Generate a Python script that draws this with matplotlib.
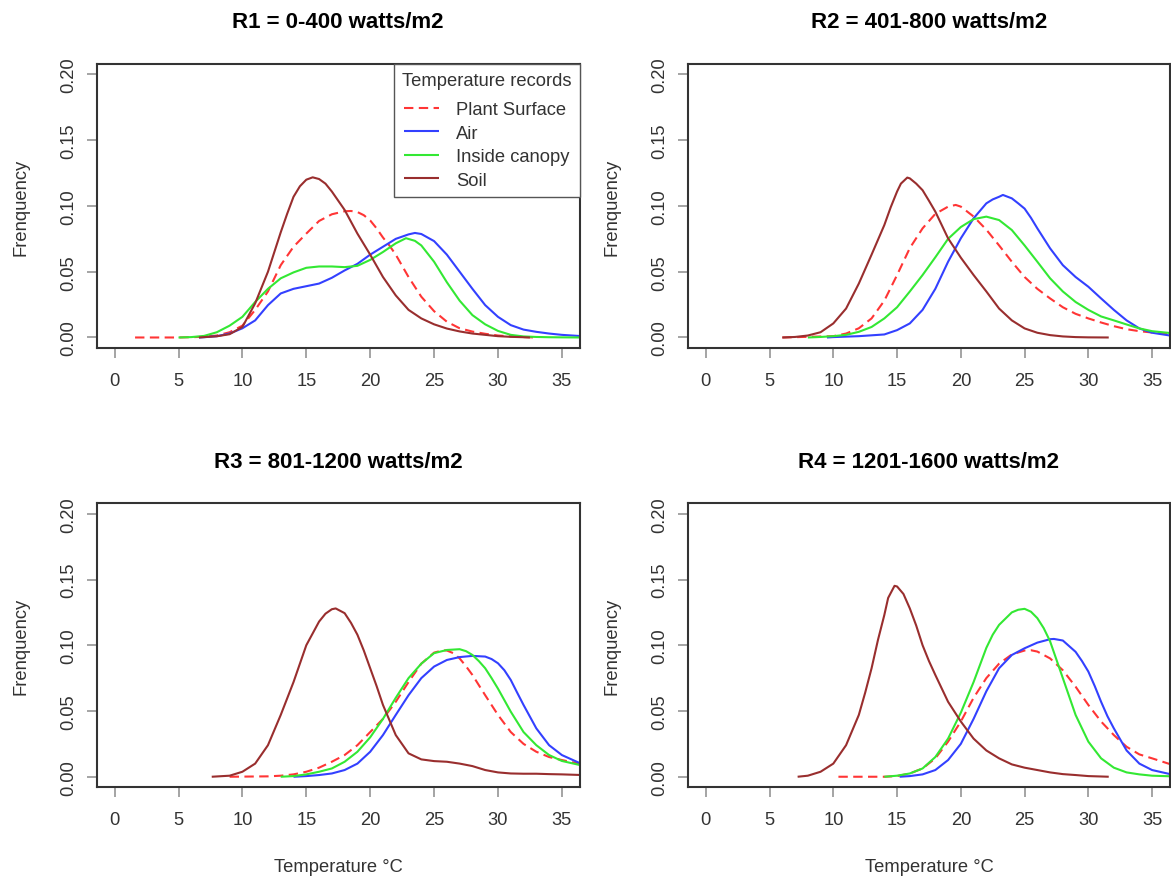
import matplotlib
matplotlib.use("Agg")
import matplotlib.pyplot as plt

plt.rcParams["font.family"] = ["Liberation Sans", "DejaVu Sans"]

# ---- data (temperature in deg C, density) ----
titles = [
    "R1 = 0-400 watts/m2",
    "R2 = 401-800 watts/m2",
    "R3 = 801-1200 watts/m2",
    "R4 = 1201-1600 watts/m2",
]
series_names = ["Plant Surface", "Air", "Inside canopy", "Soil"]

# R1
r1_plant_x = [1.6, 3, 5, 7, 8, 9, 10, 11, 12, 13, 14, 15, 16, 17, 18, 18.5, 19, 19.5, 20, 20.5, 21, 21.5, 22, 23, 24, 25, 26, 27, 28, 29, 30, 31, 32, 33]
r1_plant_y = [0, 0, 0, 0.0005, 0.0015, 0.004, 0.009, 0.021, 0.035, 0.055, 0.069, 0.079, 0.0886, 0.0937, 0.096, 0.0962, 0.0954, 0.093, 0.089, 0.083, 0.076, 0.070, 0.063, 0.046, 0.031, 0.020, 0.012, 0.007, 0.0045, 0.0028, 0.0015, 0.0008, 0.0003, 0]
r1_air_x = [6.6, 7, 8, 9, 10, 11, 12, 13, 14, 15, 16, 17, 18, 19, 20, 21, 22, 23, 23.5, 24, 25, 26, 27, 28, 29, 30, 31, 32, 33, 34, 35, 36.6]
r1_air_y = [0, 0.0002, 0.001, 0.003, 0.007, 0.013, 0.0246, 0.0335, 0.037, 0.039, 0.041, 0.0454, 0.051, 0.056, 0.063, 0.069, 0.075, 0.0784, 0.0795, 0.0787, 0.0733, 0.063, 0.050, 0.037, 0.0246, 0.0157, 0.0094, 0.006, 0.0043, 0.003, 0.002, 0.001]
r1_canopy_x = [5, 6, 7, 8, 9, 10, 11, 12, 13, 14, 15, 16, 17, 18, 19, 20, 21, 22, 22.8, 23.5, 24, 25, 26, 27, 28, 29, 30, 31, 32, 33, 34, 35, 36.6]
r1_canopy_y = [0, 0.0003, 0.0012, 0.004, 0.009, 0.0157, 0.027, 0.037, 0.045, 0.0495, 0.053, 0.054, 0.054, 0.0535, 0.0545, 0.059, 0.065, 0.0716, 0.0755, 0.0735, 0.070, 0.0576, 0.042, 0.028, 0.017, 0.010, 0.005, 0.002, 0.0008, 0.0004, 0.0002, 0.0001, 0]
r1_soil_x = [6.6, 7, 8, 9, 10, 11, 11.5, 12, 12.5, 13, 13.5, 14, 14.5, 15, 15.5, 16, 16.5, 17, 17.5, 18, 19, 20, 21, 22, 23, 24, 25, 26, 27, 28, 29, 30, 31, 32, 32.5]
r1_soil_y = [0, 0.0003, 0.0009, 0.0025, 0.008, 0.026, 0.038, 0.050, 0.065, 0.080, 0.094, 0.107, 0.115, 0.120, 0.1218, 0.1205, 0.117, 0.111, 0.104, 0.097, 0.079, 0.063, 0.046, 0.032, 0.021, 0.0145, 0.010, 0.0068, 0.0046, 0.003, 0.002, 0.001, 0.0005, 0.0002, 0]

# R2
r2_plant_x = [6, 8, 10, 11, 12, 13, 14, 15, 16, 17, 18, 19, 19.6, 20, 21, 22, 23, 24, 25, 26, 27, 28, 29, 30, 31, 32, 33, 34, 35, 36.6]
r2_plant_y = [0, 0.0005, 0.001, 0.003, 0.007, 0.0145, 0.028, 0.0475, 0.068, 0.083, 0.094, 0.0995, 0.1008, 0.0995, 0.092, 0.082, 0.070, 0.0576, 0.046, 0.037, 0.0297, 0.023, 0.018, 0.0145, 0.0114, 0.0086, 0.0063, 0.0048, 0.0038, 0.0027]
r2_air_x = [9.5, 10, 12, 14, 15, 16, 17, 18, 19, 20, 21, 22, 22.5, 23, 23.3, 24, 24.5, 25, 25.5, 26, 27, 28, 29, 30, 31, 32, 33, 34, 35, 36.6]
r2_air_y = [0, 0.0003, 0.001, 0.0023, 0.0056, 0.0107, 0.021, 0.037, 0.0576, 0.0754, 0.0906, 0.102, 0.105, 0.107, 0.1084, 0.1058, 0.102, 0.098, 0.091, 0.083, 0.0678, 0.055, 0.046, 0.0386, 0.0297, 0.021, 0.013, 0.0069, 0.0036, 0.0012]
r2_canopy_x = [8, 9, 10, 11, 12, 13, 14, 15, 16, 17, 18, 19, 20, 21, 22, 23, 24, 25, 26, 27, 28, 29, 30, 31, 32, 33, 34, 35, 36.6]
r2_canopy_y = [0, 0.0004, 0.001, 0.002, 0.0043, 0.008, 0.0145, 0.023, 0.035, 0.0475, 0.061, 0.075, 0.084, 0.090, 0.0919, 0.0893, 0.0817, 0.070, 0.0576, 0.045, 0.035, 0.027, 0.021, 0.016, 0.013, 0.0099, 0.0069, 0.0048, 0.0032]
r2_soil_x = [6, 7, 8, 9, 10, 11, 12, 13, 14, 14.5, 15, 15.3, 15.8, 16, 16.5, 17, 17.5, 18, 19, 20, 21, 22, 23, 24, 25, 26, 27, 28, 29, 30, 31.6]
r2_soil_y = [0, 0.0004, 0.0015, 0.004, 0.0107, 0.022, 0.041, 0.063, 0.0855, 0.099, 0.111, 0.117, 0.1216, 0.121, 0.117, 0.112, 0.104, 0.0957, 0.0754, 0.0607, 0.0475, 0.035, 0.022, 0.013, 0.0069, 0.0036, 0.0018, 0.0008, 0.0003, 0.0001, 0]

# R3
r3_plant_x = [9, 12, 13, 14, 15, 16, 17, 18, 19, 20, 21, 22, 23, 24, 25, 25.7, 26, 26.5, 27, 27.5, 28, 29, 30, 31, 32, 33, 34, 35, 36.6]
r3_plant_y = [0, 0.0003, 0.0008, 0.0018, 0.0038, 0.0069, 0.0114, 0.0165, 0.024, 0.034, 0.044, 0.057, 0.072, 0.086, 0.0944, 0.0962, 0.096, 0.094, 0.090, 0.084, 0.0774, 0.062, 0.047, 0.034, 0.025, 0.019, 0.015, 0.0127, 0.0095]
r3_air_x = [14, 15, 16, 17, 18, 19, 20, 21, 22, 23, 24, 25, 26, 27, 28, 29, 29.5, 30, 30.5, 31, 31.5, 32, 33, 34, 35, 36.6]
r3_air_y = [0, 0.0005, 0.0013, 0.0025, 0.0051, 0.010, 0.019, 0.0317, 0.047, 0.062, 0.075, 0.0838, 0.0888, 0.091, 0.0919, 0.0914, 0.0895, 0.0863, 0.081, 0.0736, 0.064, 0.0546, 0.0368, 0.024, 0.0165, 0.0095]
r3_canopy_x = [13, 14, 15, 16, 17, 18, 19, 20, 21, 22, 23, 24, 25, 26, 27, 27.5, 28, 28.5, 29, 29.5, 30, 31, 32, 33, 34, 35, 36.6]
r3_canopy_y = [0, 0.0005, 0.0018, 0.0038, 0.0063, 0.0114, 0.019, 0.030, 0.044, 0.060, 0.075, 0.086, 0.094, 0.0964, 0.097, 0.0955, 0.0926, 0.088, 0.0825, 0.075, 0.067, 0.0495, 0.034, 0.024, 0.0165, 0.012, 0.0085]
r3_soil_x = [7.6, 9, 10, 11, 12, 13, 14, 15, 16, 16.5, 17, 17.3, 18, 18.5, 19, 19.5, 20, 20.5, 21, 22, 23, 24, 25, 26, 27, 28, 29, 30, 31, 32, 33, 34, 35, 36.6]
r3_soil_y = [0, 0.0008, 0.0038, 0.010, 0.024, 0.047, 0.072, 0.100, 0.118, 0.124, 0.1274, 0.128, 0.1244, 0.117, 0.108, 0.096, 0.0825, 0.069, 0.0546, 0.0317, 0.0178, 0.0132, 0.0119, 0.0114, 0.010, 0.0081, 0.0051, 0.0033, 0.0025, 0.0023, 0.0023, 0.002, 0.0018, 0.0013]

# R4
r4_plant_x = [10.4, 14, 15, 16, 17, 18, 19, 20, 21, 22, 23, 24, 25, 25.5, 26, 27, 28, 29, 30, 31, 32, 33, 34, 35, 36.6]
r4_plant_y = [0, 0, 0.0005, 0.0025, 0.0063, 0.014, 0.0267, 0.042, 0.060, 0.075, 0.086, 0.093, 0.096, 0.0962, 0.0952, 0.090, 0.081, 0.0685, 0.0546, 0.042, 0.0317, 0.0228, 0.017, 0.014, 0.009]
r4_air_x = [15.2, 16, 17, 18, 19, 20, 21, 22, 23, 24, 25, 26, 27, 27.3, 28, 29, 29.5, 30, 30.5, 31, 31.5, 32, 33, 34, 35, 36.6]
r4_air_y = [0, 0.0005, 0.0018, 0.0051, 0.0127, 0.025, 0.044, 0.065, 0.0825, 0.0926, 0.0977, 0.102, 0.1046, 0.1048, 0.1036, 0.095, 0.088, 0.080, 0.069, 0.057, 0.046, 0.0368, 0.020, 0.010, 0.0051, 0.0016]
r4_canopy_x = [14, 15, 16, 17, 18, 19, 20, 21, 21.5, 22, 22.5, 23, 24, 24.5, 25, 25.5, 26, 26.5, 27, 27.5, 28, 28.5, 29, 30, 31, 32, 33, 34, 35, 36.6]
r4_canopy_y = [0, 0.0008, 0.0025, 0.0063, 0.015, 0.029, 0.0487, 0.072, 0.085, 0.098, 0.108, 0.1155, 0.125, 0.127, 0.1277, 0.1255, 0.1206, 0.113, 0.103, 0.089, 0.075, 0.061, 0.047, 0.0267, 0.014, 0.0069, 0.0033, 0.0018, 0.0008, 0.0003]
r4_soil_x = [7.2, 8, 9, 10, 11, 12, 12.5, 13, 13.5, 14, 14.3, 14.8, 15, 15.5, 16, 16.5, 17, 17.5, 18, 19, 20, 21, 22, 23, 24, 25, 26, 27, 28, 29, 30, 31, 31.6]
r4_soil_y = [0, 0.0008, 0.0038, 0.010, 0.024, 0.047, 0.064, 0.0825, 0.104, 0.123, 0.136, 0.1452, 0.1447, 0.139, 0.128, 0.115, 0.100, 0.088, 0.0774, 0.057, 0.042, 0.029, 0.020, 0.014, 0.0094, 0.0069, 0.0051, 0.0033, 0.002, 0.0013, 0.0005, 0.0002, 0]

panels = [
    [(r1_plant_x, r1_plant_y), (r1_air_x, r1_air_y), (r1_canopy_x, r1_canopy_y), (r1_soil_x, r1_soil_y)],
    [(r2_plant_x, r2_plant_y), (r2_air_x, r2_air_y), (r2_canopy_x, r2_canopy_y), (r2_soil_x, r2_soil_y)],
    [(r3_plant_x, r3_plant_y), (r3_air_x, r3_air_y), (r3_canopy_x, r3_canopy_y), (r3_soil_x, r3_soil_y)],
    [(r4_plant_x, r4_plant_y), (r4_air_x, r4_air_y), (r4_canopy_x, r4_canopy_y), (r4_soil_x, r4_soil_y)],
]

x_ticks = [0, 5, 10, 15, 20, 25, 30, 35]
y_ticks = [0.00, 0.05, 0.10, 0.15, 0.20]

# ---- styles ----
colors = ["#ff3535", "#3340ff", "#33e833", "#992e2e"]
dashes = [(4.5, 2.6), None, None, None]
line_w = 1.5
text_col = "#333333"
fs = 13.2

# axes rectangles in figure fractions (left, bottom, width, height)
rects = [
    (0.0826, 0.6025, 0.4125, 0.3235),
    (0.5875, 0.6025, 0.4116, 0.3235),
    (0.0826, 0.1022, 0.4125, 0.3235),
    (0.5875, 0.1022, 0.4116, 0.3235),
]

fig = plt.figure(figsize=(11.71, 8.78), dpi=100)

for i, (rect, curves) in enumerate(zip(rects, panels)):
    ax = fig.add_axes(rect)
    handles = []
    for (xs, ys), col, dsh, name in zip(curves, colors, dashes, series_names):
        line, = ax.plot(xs, ys, color=col, lw=line_w, label=name,
                        solid_joinstyle="round", solid_capstyle="butt")
        if dsh is not None:
            line.set_dashes(dsh)
        handles.append(line)

    ax.set_xlim(-1.4, 36.4)
    ax.set_ylim(-0.008, 0.208)
    ax.set_xticks(x_ticks)
    ax.set_yticks(y_ticks)
    ax.set_xticklabels([str(t) for t in x_ticks])
    ax.set_yticklabels([f"{t:.2f}" for t in y_ticks], rotation=90, va="center")
    ax.tick_params(axis="both", direction="out", length=7.5, width=1.1,
                   color="#8c8c8c", labelsize=fs, labelcolor=text_col)
    ax.tick_params(axis="x", pad=9.5)
    ax.tick_params(axis="y", pad=6.5)
    for sp in ax.spines.values():
        sp.set_color("#333333")
        sp.set_linewidth(1.5)

    ax.text(0.5, 1.148, titles[i], transform=ax.transAxes, ha="center",
            va="center", fontsize=16, fontweight="bold", color="black")
    ax.set_ylabel("Frenquency", fontsize=fs, color=text_col)
    ax.yaxis.set_label_coords(-0.139, 0.5)
    if i >= 2:
        ax.set_xlabel("Temperature °C", fontsize=fs, color=text_col)
        ax.xaxis.set_label_coords(0.5, -0.25)

    if i == 0:
        leg = ax.legend(handles=handles, title="Temperature records",
                        loc="upper right", bbox_to_anchor=(1.0, 1.0),
                        borderaxespad=0, fancybox=False, framealpha=1,
                        edgecolor="#555555", fontsize=fs, title_fontsize=fs,
                        handlelength=1.9, handletextpad=0.95, labelspacing=0.36,
                        borderpad=0.45)
        leg._legend_box.sep = 8.5
        leg.get_frame().set_linewidth(1.0)
        for t in leg.get_texts():
            t.set_color(text_col)
        leg.get_title().set_color(text_col)

fig.savefig("out.png", dpi=100)
